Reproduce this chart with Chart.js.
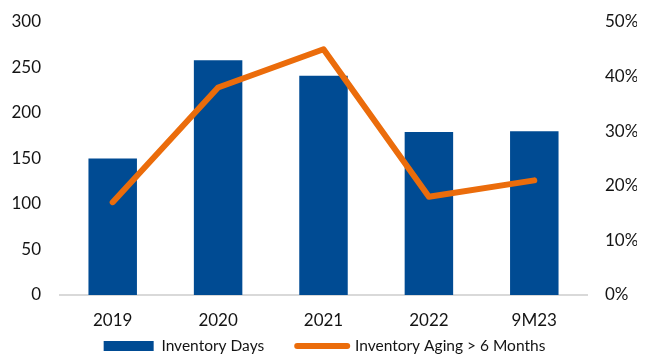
<!DOCTYPE html>
<html>
<head>
<meta charset="utf-8">
<script src="https://cdn.jsdelivr.net/npm/chart.js@4/dist/chart.umd.min.js"></script>
<style>
  html, body { margin: 0; padding: 0; background: #ffffff; }
  #wrap { width: 649px; height: 358px; }
</style>
</head>
<body>
<div id="wrap"><canvas id="chart" width="649" height="358"></canvas></div>
<script>
// Periods shown on the category axis
const categories = ['2019', '2020', '2021', '2022', '9M23'];
// Inventory days (left axis)
const inventoryDays = [150, 258, 241, 179, 180];
// Share of inventory aged over six months, in percent (right axis)
const agingOver6M = [17, 38, 45, 18, 21];
// Axis tick values
const leftTicks = [0, 50, 100, 150, 200, 250, 300];
const rightTicks = [0, 10, 20, 30, 40, 50];

const BLUE = '#004b93';
const ORANGE = '#eb6c0b';
const TEXT = '#141414';

const LEGEND_GAP = 33;       // horizontal space between legend entries
const LEGEND_CENTER_Y = 346; // vertical centre of the legend row
const LEGEND_FONT = 15.5;

Chart.defaults.font.family = 'Lato, "Open Sans", sans-serif';
Chart.defaults.font.size = 17;
Chart.defaults.color = TEXT;

// The legend keeps a short layout box, so the wide entry spacing does not
// eat into the plot; its row is then placed at a fixed height.
const legendRow = {
  id: 'legendRow',
  afterLayout(chart) {
    const lg = chart.legend;
    if (!lg) return;
    lg.top = LEGEND_CENTER_Y - LEGEND_GAP - LEGEND_FONT / 2;
    lg.bottom = chart.height;
  }
};

// Fixed top offset of the plot on both value axes
const topPad = scale => { scale.paddingTop = 22; scale.paddingBottom = 0; };

new Chart(document.getElementById('chart'), {
  data: {
    labels: categories,
    datasets: [
      {
        type: 'line',
        label: 'Inventory Aging > 6 Months',
        data: agingOver6M,
        yAxisID: 'yRight',
        borderColor: ORANGE,
        backgroundColor: ORANGE,
        borderWidth: 6,
        borderCapStyle: 'round',
        borderJoinStyle: 'round',
        pointRadius: 0,
        pointHoverRadius: 0,
        tension: 0,
        order: 0
      },
      {
        type: 'bar',
        label: 'Inventory Days',
        data: inventoryDays,
        yAxisID: 'yLeft',
        backgroundColor: BLUE,
        borderWidth: 0,
        categoryPercentage: 0.92,
        barPercentage: 0.5,
        order: 1
      }
    ]
  },
  plugins: [legendRow],
  options: {
    responsive: false,
    animation: false,
    layout: { padding: { top: 0, right: 12, left: 12, bottom: 0 } },
    plugins: {
      tooltip: { enabled: false },
      legend: {
        position: 'bottom',
        maxHeight: 24,
        labels: {
          usePointStyle: true,
          boxWidth: 50,
          boxHeight: 10,
          pointStyleWidth: 50,
          padding: LEGEND_GAP,
          font: { size: LEGEND_FONT },
          generateLabels(chart) {
            return [
              {
                text: 'Inventory Days',
                fillStyle: BLUE,
                strokeStyle: BLUE,
                lineWidth: 0,
                pointStyle: 'rect',
                datasetIndex: 1,
                fontColor: TEXT
              },
              {
                text: 'Inventory Aging > 6 Months',
                fillStyle: ORANGE,
                strokeStyle: ORANGE,
                lineWidth: 6,
                lineCap: 'round',
                pointStyle: 'line',
                datasetIndex: 0,
                fontColor: TEXT
              }
            ];
          }
        }
      }
    },
    scales: {
      x: {
        grid: { display: false, drawTicks: false },
        border: { display: true, color: '#d9d9d9', width: 2 },
        ticks: { padding: 15 },
        afterFit(scale) { scale.height = 39; }
      },
      yLeft: {
        position: 'left',
        min: 0,
        max: 300,
        afterBuildTicks(scale) { scale.ticks = leftTicks.map(v => ({ value: v })); },
        afterFit(scale) { scale.width = 48; topPad(scale); },
        grid: { display: false, drawTicks: false },
        border: { display: false },
        ticks: { padding: 19 }
      },
      yRight: {
        position: 'right',
        min: 0,
        max: 50,
        afterBuildTicks(scale) { scale.ticks = rightTicks.map(v => ({ value: v })); },
        afterFit(scale) { scale.width = 50; topPad(scale); },
        grid: { display: false, drawTicks: false },
        border: { display: false },
        ticks: { padding: 18, callback: v => v + '%' }
      }
    }
  }
});
</script>
</body>
</html>
